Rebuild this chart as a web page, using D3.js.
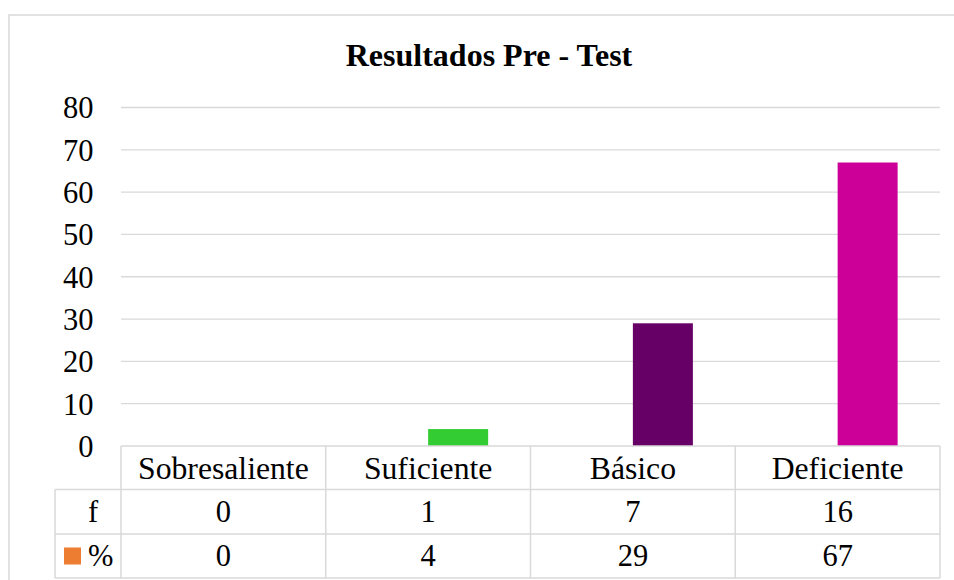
<!DOCTYPE html>
<html>
<head>
<meta charset="utf-8">
<script src="https://cdn.jsdelivr.net/npm/d3@7/dist/d3.min.js"></script>
<style>
  html, body { margin: 0; padding: 0; background: #fff; }
  svg { display: block; }
  svg text { font-family: "Liberation Serif", "Tinos", "Times New Roman", Times, "DejaVu Serif", serif; fill: #000; }
</style>
</head>
<body>
<svg id="chart" width="954" height="580"></svg>
<script>
const title = "Resultados Pre - Test";
const categories = ["Sobresaliente", "Suficiente", "Básico", "Deficiente"];
const seriesNames = ["f", "%"];
const fValues = [0, 1, 7, 16];
const pctValues = [0, 4, 29, 67];
const barColors = ["#4472C4", "#33CC33", "#660066", "#CC0099"];
const legendKeyColor = "#ED7D31";
const yTicks = [0, 10, 20, 30, 40, 50, 60, 70, 80];

const svg = d3.select("#chart");
const grid = "#d9d9d9";

const plotLeft = 121, plotRight = 940, plotTop = 107.5, plotBottom = 446;
const rowH = [446, 489.5, 534, 578];
const tableLeft = 55;

// outer border
svg.append("rect").attr("x", 9).attr("y", 15).attr("width", 960).attr("height", 600)
  .attr("fill", "#fff").attr("stroke", grid).attr("stroke-width", 1.5);

const x0 = d3.scaleBand().domain(categories).range([plotLeft, plotRight]).paddingInner(0).paddingOuter(0);
const x1 = d3.scaleBand().domain(seriesNames).range([0, x0.bandwidth()]).paddingInner(0).paddingOuter(0.706);
const y = d3.scaleLinear().domain([0, 80]).range([plotBottom, plotTop]);

// title
svg.append("text").attr("x", 489).attr("y", 66).attr("text-anchor", "middle")
  .attr("font-size", 32).attr("font-weight", "bold").text(title);

// gridlines
svg.append("g").selectAll("line").data(yTicks.filter(d => d > 0)).join("line")
  .attr("x1", plotLeft).attr("x2", plotRight)
  .attr("y1", d => y(d)).attr("y2", d => y(d))
  .attr("stroke", grid).attr("stroke-width", 1.3);

// y axis labels
const yAxis = d3.axisLeft(y).tickValues(yTicks).tickSize(0).tickPadding(0);
const gy = svg.append("g").attr("transform", `translate(93.5,0)`).call(yAxis);
gy.attr("font-family", null).attr("font-size", null);
gy.select(".domain").remove();
gy.selectAll("text").attr("font-size", 30.5).attr("dy", "0.34em").attr("x", 0);

// bars
const data = categories.map((c, i) => ({ cat: c, i, vals: [fValues[i], pctValues[i]] }));
const gBars = svg.append("g");
data.forEach(d => {
  seriesNames.forEach((s, j) => {
    gBars.append("rect")
      .attr("x", x0(d.cat) + x1(s))
      .attr("width", x1.bandwidth())
      .attr("y", y(d.vals[j]))
      .attr("height", plotBottom - y(d.vals[j]))
      .attr("fill", j === 0 ? "none" : barColors[d.i]);
  });
});

// data table
const gt = svg.append("g").attr("stroke", grid).attr("stroke-width", 1.5);
gt.append("line").attr("x1", plotLeft).attr("x2", plotRight).attr("y1", rowH[0]).attr("y2", rowH[0]);
for (let r = 1; r < rowH.length; r++) {
  gt.append("line").attr("x1", tableLeft).attr("x2", plotRight).attr("y1", rowH[r]).attr("y2", rowH[r]);
}
const colEdges = categories.map(c => x0(c)).concat([plotRight]);
colEdges.forEach(cx => {
  gt.append("line").attr("x1", cx).attr("x2", cx).attr("y1", rowH[0]).attr("y2", rowH[3]);
});
gt.append("line").attr("x1", tableLeft).attr("x2", tableLeft).attr("y1", rowH[1]).attr("y2", rowH[3]);

const tableText = svg.append("g").attr("font-size", 30.5);
categories.forEach(c => {
  tableText.append("text").attr("x", x0(c) + x0.bandwidth() / 2).attr("y", (rowH[0] + rowH[1]) / 2)
    .attr("dy", "0.34em").attr("text-anchor", "middle").attr("font-size", 31.7).text(c);
});
const rows = [fValues, pctValues];
rows.forEach((vals, r) => {
  const cy = (rowH[r + 1] + rowH[r + 2]) / 2;
  categories.forEach((c, i) => {
    tableText.append("text").attr("x", x0(c) + x0.bandwidth() / 2).attr("y", cy)
      .attr("dy", "0.34em").attr("text-anchor", "middle").text(vals[i]);
  });
  tableText.append("text").attr("x", 88).attr("y", cy).attr("dy", "0.34em").text(seriesNames[r]);
});
// legend key for %
svg.append("rect").attr("x", 64).attr("y", (rowH[2] + rowH[3]) / 2 - 8.5)
  .attr("width", 17).attr("height", 17).attr("fill", legendKeyColor);
</script>
</body>
</html>
